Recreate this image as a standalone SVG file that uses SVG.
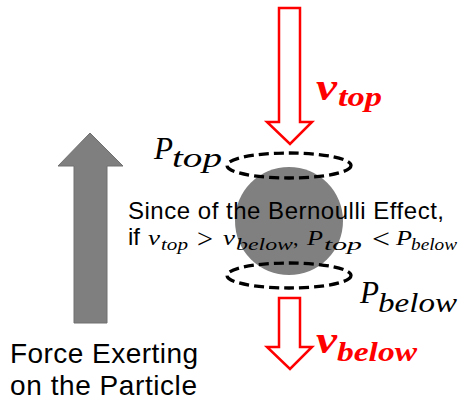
<svg xmlns="http://www.w3.org/2000/svg" width="459" height="405" viewBox="0 0 459 405">
<style>
.sans{font-family:"Liberation Sans",Arial,sans-serif;fill:#000}
.m{font-family:"Liberation Serif","Times New Roman",serif;font-style:italic;fill:#000}
.op{font-family:"Liberation Serif","Times New Roman",serif;fill:#000}
.red{fill:#ff0000;font-weight:bold}
.flow{fill:#fff;stroke:#ff0000;stroke-width:2.5;stroke-linejoin:miter}
.zone{fill:none;stroke:#000;stroke-width:3.3;stroke-dasharray:10 5}
</style>
<rect width="459" height="405" fill="#fff"/>
<g id="force-arrow"><path d="M90 133 L123 166 L107 166 L107 323 L74 323 L74 166 L58 166 Z" fill="#7f7f7f" stroke="#707070" stroke-width="1"/></g>
<g id="particle"><circle cx="289" cy="221" r="54" fill="#808080"/></g>
<g id="connectors">
<g id="top-zone"><ellipse cx="289" cy="165.5" rx="62" ry="12.5" class="zone"/></g>
<g id="bottom-zone"><ellipse cx="289" cy="275.5" rx="62" ry="12.5" class="zone"/></g>
<g id="top-flow"><path d="M279 8 H300 V122 H312 L290 144 L267 122 H279 Z" class="flow"/></g>
<g id="bottom-flow"><path d="M279 298 H300 V347 H312 L290 369 L267 347 H279 Z" class="flow"/></g>
</g>
<g id="label-vtop">
<text class="m red" x="316" y="100" font-size="38" textLength="21" lengthAdjust="spacingAndGlyphs">v</text>
<text class="m red" x="338" y="106" font-size="28" textLength="44" lengthAdjust="spacingAndGlyphs">top</text>
</g>
<g id="label-vbelow">
<text class="m red" x="316" y="353" font-size="38" textLength="21" lengthAdjust="spacingAndGlyphs">v</text>
<text class="m red" x="337" y="361" font-size="28" textLength="80" lengthAdjust="spacingAndGlyphs">below</text>
</g>
<g id="label-ptop">
<text class="m" x="154" y="159" font-size="32" textLength="19" lengthAdjust="spacingAndGlyphs">P</text>
<text class="m" x="172" y="167" font-size="27" textLength="50" lengthAdjust="spacingAndGlyphs">top</text>
</g>
<g id="label-pbelow">
<text class="m" x="360" y="303" font-size="32" textLength="19" lengthAdjust="spacingAndGlyphs">P</text>
<text class="m" x="378" y="312" font-size="27" textLength="79" lengthAdjust="spacingAndGlyphs">below</text>
</g>
<g id="explanation">
<text class="sans" x="128" y="219" font-size="24" textLength="316">Since of the Bernoulli Effect,</text>
<text class="sans" x="128" y="245" font-size="24">if</text>
<text class="m" x="148" y="245" font-size="22" textLength="12" lengthAdjust="spacingAndGlyphs">v</text>
<text class="m" x="161" y="250" font-size="17" textLength="27" lengthAdjust="spacingAndGlyphs">top</text>
<text class="op" x="197" y="248" font-size="27" textLength="16" lengthAdjust="spacingAndGlyphs">&gt;</text>
<text class="m" x="223" y="245" font-size="22" textLength="12" lengthAdjust="spacingAndGlyphs">v</text>
<text class="m" x="236" y="250" font-size="17" textLength="57" lengthAdjust="spacingAndGlyphs">below</text>
<text class="op" x="293" y="245" font-size="22">,</text>
<text class="m" x="307" y="245" font-size="22" textLength="16" lengthAdjust="spacingAndGlyphs">P</text>
<text class="m" x="324" y="250" font-size="17" textLength="38" lengthAdjust="spacingAndGlyphs">top</text>
<text class="op" x="372" y="248" font-size="27" textLength="18" lengthAdjust="spacingAndGlyphs">&lt;</text>
<text class="m" x="396" y="245" font-size="22" textLength="16" lengthAdjust="spacingAndGlyphs">P</text>
<text class="m" x="411" y="250" font-size="17" textLength="46" lengthAdjust="spacingAndGlyphs">below</text>
</g>
<g id="force-label">
<text class="sans" x="10" y="363" font-size="28" textLength="188">Force Exerting</text>
<text class="sans" x="10" y="395" font-size="28" textLength="187">on the Particle</text>
</g>
</svg>
